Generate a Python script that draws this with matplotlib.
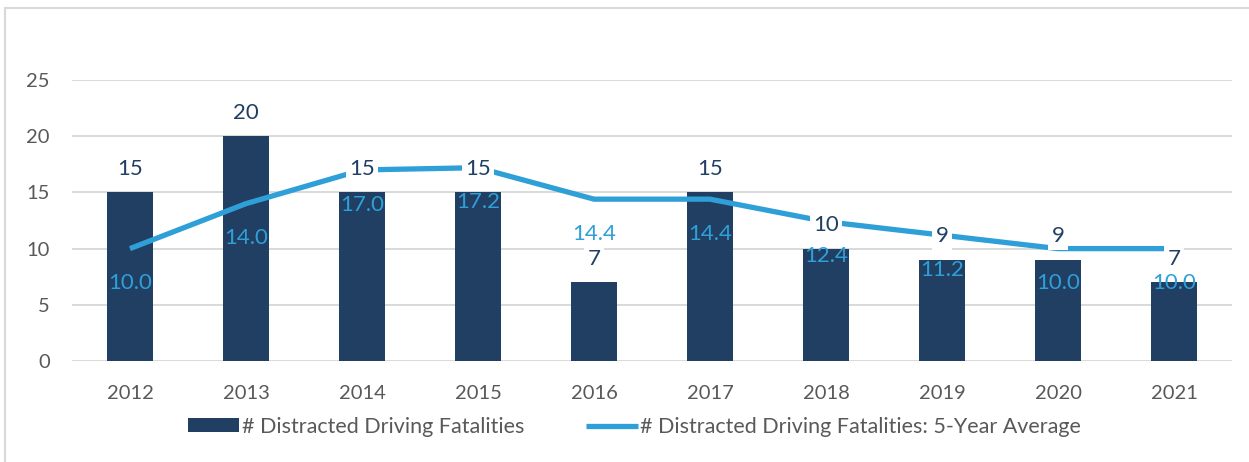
import matplotlib.pyplot as plt
from matplotlib.patches import Rectangle

years = ["2012", "2013", "2014", "2015", "2016", "2017", "2018", "2019", "2020", "2021"]
fatalities = [15, 20, 15, 15, 7, 15, 10, 9, 9, 7]
five_year_avg = [10.0, 14.0, 17.0, 17.2, 14.4, 14.4, 12.4, 11.2, 10.0, 10.0]
yticks = [0, 5, 10, 15, 20, 25]

bar_color = "#203F63"
line_color = "#2F9FD8"
text_gray = "#595959"
grid_gray = "#D9D9D9"

plt.rcParams["font.family"] = ["Lato", "DejaVu Sans"]

fig = plt.figure(figsize=(12.49, 4.62), dpi=100)
ax = fig.add_axes([0.0576, 0.2186, 0.9288, 0.6082])

x = list(range(len(years)))
bars = ax.bar(x, fatalities, width=0.40, color=bar_color, zorder=2,
              label="# Distracted Driving Fatalities")
line, = ax.plot(x, five_year_avg, color=line_color, lw=3.8, zorder=3,
                solid_capstyle="butt",
                label="# Distracted Driving Fatalities: 5-Year Average")

# bar labels above bars, white box hides the line
for xi, v in zip(x, fatalities):
    ax.annotate(f"{v}", (xi, v), xytext=(0, 17), textcoords="offset points",
                ha="center", va="center", fontsize=16, color=bar_color, zorder=6,
                bbox=dict(facecolor="white", edgecolor="none", pad=2.5))

# average labels below the line points
for xi, v in zip(x, five_year_avg):
    ax.annotate(f"{v:.1f}", (xi, v), xytext=(0, -25), textcoords="offset points",
                ha="center", va="center", fontsize=16, color=line_color, zorder=5)

ax.set_xlim(-0.5, len(years) - 0.5)
ax.set_ylim(0, 25)
ax.set_xticks(x)
ax.set_xticklabels(years)
ax.set_yticks(yticks)
ax.tick_params(axis="both", length=0, labelsize=14.5, labelcolor=text_gray)
ax.tick_params(axis="x", pad=17)
ax.tick_params(axis="y", pad=16)
ax.grid(axis="y", color=grid_gray, lw=1.4, zorder=0)
ax.set_axisbelow(True)
for s in ax.spines.values():
    s.set_visible(False)

leg = fig.legend(handles=[bars, line], loc="center", bbox_to_anchor=(0.508, 0.076),
                 ncol=2, frameon=False, fontsize=15.5, handlelength=2.4,
                 handletextpad=0.1, columnspacing=2.9, handleheight=0.6)
for t in leg.get_texts():
    t.set_color(text_gray)

# light border around the chart area
fig.patches.append(Rectangle((5 / 1249, -0.1), 1.2, (462 - 8) / 462 + 0.1,
                             transform=fig.transFigure, fill=False,
                             edgecolor=grid_gray, lw=1.5))

fig.savefig("out.png", dpi=100)
